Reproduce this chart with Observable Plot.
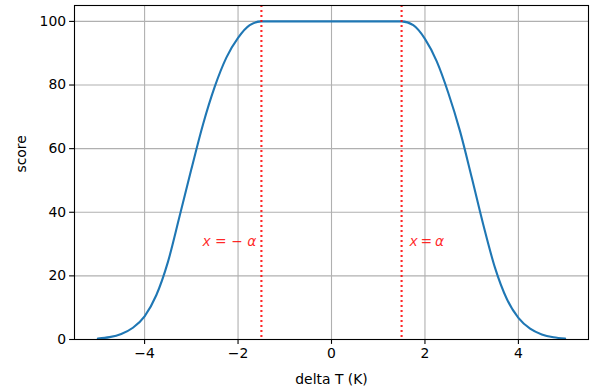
<!DOCTYPE html>
<html>
<head>
<meta charset="utf-8">
<script src="https://cdn.jsdelivr.net/npm/d3@7"></script>
<script src="https://cdn.jsdelivr.net/npm/@observablehq/plot@0.6"></script>
<style>
  html, body { margin: 0; padding: 0; background: #fff; }
  #chart { width: 593px; height: 392px; }
</style>
</head>
<body>
<div id="chart"></div>
<script>
// delta T (K) sample positions and the score
const deltaT = [-5, -4.75, -4.5, -4.25, -4, -3.75, -3.5, -3.25, -3, -2.75, -2.5, -2.25, -2, -1.75, -1.5,
                -1, -0.5, 0, 0.5, 1,
                1.5, 1.75, 2, 2.25, 2.5, 2.75, 3, 3.25, 3.5, 3.75, 4, 4.25, 4.5, 4.75, 5];
const score  = [0.3, 0.75, 1.75, 3.7, 7.3, 13.9, 24.4, 38.8, 53.5, 67.6, 79.4, 88.6, 94.8, 98.8, 100,
                100, 100, 100, 100, 100,
                100, 98.8, 94.5, 87.5, 77.5, 65.5, 51, 36, 22.5, 12.8, 6.8, 3.4, 1.6, 0.7, 0.3];
const alpha = 1.5;
const leftLabel = "x = − α";
const rightLabel = "x\u2009=\u2009α";
const labelY = 30;
const xTicks = [-4, -2, 0, 2, 4];
const yTicks = [0, 20, 40, 60, 80, 100];
const xLabel = "delta T (K)";
const yLabel = "score";

const curve = deltaT.map((x, i) => ({x, y: score[i]}));

const font = "DejaVu Sans, sans-serif";
const red = "#ff0000";
const chart = Plot.plot({
  width: 593,
  height: 392,
  marginLeft: 74,
  marginRight: 5,
  marginTop: 5,
  marginBottom: 53,
  style: {fontFamily: font, fontSize: "13.9px", color: "#000", background: "#fff"},
  x: {domain: [-5.5, 5.5]},
  y: {domain: [0, 105]},
  marks: [
    Plot.gridX(xTicks, {stroke: "#b0b0b0", strokeOpacity: 1, strokeWidth: 1.1}),
    Plot.gridY(yTicks, {stroke: "#b0b0b0", strokeOpacity: 1, strokeWidth: 1.1}),
    Plot.line(curve, {x: "x", y: "y", stroke: "#1f77b4", strokeWidth: 2.1, curve: "monotone-x"}),
    Plot.ruleX([-alpha, alpha], {stroke: red, strokeWidth: 2.1, strokeDasharray: "2,3", strokeOpacity: 0.85}),
    Plot.text([leftLabel], {x: -alpha, y: labelY, text: d => d, fill: red, fillOpacity: 0.85,
      textAnchor: "end", dx: -5, dy: 1.5, lineAnchor: "bottom", fontSize: 13.9}),
    Plot.text([rightLabel], {x: alpha, y: labelY, text: d => d, fill: red, fillOpacity: 0.85,
      textAnchor: "start", dx: 8, dy: 1.5, lineAnchor: "bottom", fontSize: 13.9}),
    Plot.frame({stroke: "#000", strokeWidth: 1.1}),
    Plot.axisX(xTicks, {tickSize: 4.9, tickPadding: 3.5, label: null, fontSize: 13.9, strokeWidth: 1.1}),
    Plot.axisY(yTicks, {tickSize: 4.9, tickPadding: 3.5, label: null, fontSize: 13.9, strokeWidth: 1.1}),
    Plot.text([xLabel], {frameAnchor: "bottom", dy: 40, text: d => d, fontSize: 13.9, lineAnchor: "middle"}),
    Plot.text([yLabel], {frameAnchor: "left", dx: -53, rotate: -90, text: d => d, fontSize: 13.9, lineAnchor: "middle"})
  ]
});
document.getElementById("chart").append(chart);
// math-style labels: italic variables, upright operators (still real text)
d3.select(chart).selectAll("text").each(function() {
  const t = this.textContent;
  if (t === leftLabel || t === rightLabel) {
    const parts = t.split(/(x|α)/).filter(s => s.length);
    this.textContent = "";
    this.setAttribute("style", "white-space: pre");
    for (const p of parts) {
      const ts = document.createElementNS("http://www.w3.org/2000/svg", "tspan");
      ts.textContent = p;
      if (p === "x" || p === "α") ts.setAttribute("font-style", "italic");
      this.appendChild(ts);
    }
  }
});
</script>
</body>
</html>
